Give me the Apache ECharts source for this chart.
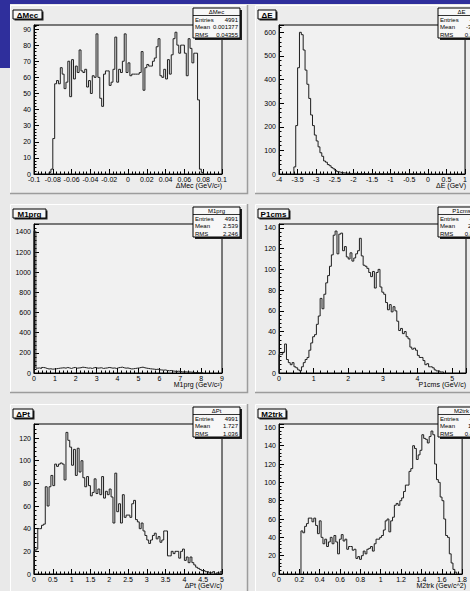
<!DOCTYPE html>
<html>
<head>
<meta charset="utf-8">
<script src="https://cdn.jsdelivr.net/npm/echarts@6/dist/echarts.min.js"></script>
<style>
  html, body { margin: 0; padding: 0; background: #e9e9e9; }
  #main { width: 470px; height: 591px; }
</style>
</head>
<body>
<div id="main"></div>
<script>
// ---- histogram contents (counts per bin) ----
var mecStart = -0.084, mecBin = 0.002;
var mecCounts = [1, 3,
  22, 56, 58, 56, 66, 62, 53, 57, 70, 48, 71, 59, 67, 63, 77, 64, 63, 65, 54, 58, 50, 61, 60,
  87, 60, 47, 42, 62, 64, 64, 55, 57, 65,
  85, 57, 65, 63, 70,
  87, 63, 69, 61, 62, 62, 62, 62, 63, 76, 52, 66, 68, 67, 67, 70, 72, 79,
  84, 61, 60, 65, 59, 71, 62, 74, 84,
  88, 80, 75, 80, 80, 75, 61,
  84, 78, 69, 75, 75, 46, 3, 1];

var deStart = -3.6, deBin = 0.05;
var deCounts = [30, 205, 450, 600, 590, 525, 440, 380, 320, 250, 205, 165, 140, 115, 90, 75, 55, 50, 40, 35,
  27, 22, 15, 10, 8, 6, 5, 4, 3, 3, 2, 2, 3, 1, 2, 1, 1, 2, 1, 1,
  0, 1, 1, 0, 1, 0, 1, 1, 0, 0, 1, 0, 1, 0, 0, 1, 0, 0, 1, 0,
  1, 0, 0, 1, 0, 0, 1, 0, 0, 0, 1];

var m1Start = 0, m1Bin = 0.09;
var m1Counts = [1408, 48, 50, 45, 55, 52, 45, 40, 42, 38, 40, 42, 45, 48, 50, 52, 48, 55, 50, 45,
  52, 55, 48, 50, 52, 58, 55, 52, 48, 50, 45, 52, 55, 48, 50, 52, 45, 48, 50, 55,
  52, 48, 50, 45, 52, 55, 58, 52, 48, 50, 45, 40, 42, 45, 48, 50, 55, 58, 52, 48,
  45, 42, 40, 38, 35, 38, 32, 30, 28, 30, 25, 22, 25, 20, 18, 15, 18, 15, 12, 10,
  12, 8, 10, 8, 6, 5, 4, 3, 2, 1];

var pcStart = 0, pcBin = 0.054;
var pcCounts = [18, 18, 20, 28, 13, 10, 8, 10, 6, 5,
  3, 2, 6, 10, 13, 15, 22, 29, 35, 37,
  47, 55, 72, 62, 76, 87, 94, 103, 114, 133,
  137, 115, 134, 135, 118, 122, 112, 110, 116, 108,
  111, 115, 118, 130, 113, 104, 103, 101, 97, 93,
  98, 82, 97, 100, 83, 78, 76, 68, 61, 66,
  59, 64, 60, 50, 41, 43, 38, 40, 35, 33,
  25, 23, 24, 22, 17, 15, 15, 12, 8, 9,
  6, 6, 5, 3, 2, 2, 1, 1];

var ptStart = 0, ptBin = 0.05;
var ptCounts = [20, 22, 40, 40, 43, 44, 77, 60, 77, 87,
  78, 97, 95, 97, 98, 97, 83, 125, 118, 112,
  96, 110, 87, 111, 90, 100, 85, 77, 86, 78,
  69, 72, 84, 71, 75, 70, 86, 67, 73, 70,
  75, 68, 45, 89, 55, 62, 45, 70, 50, 52,
  52, 50, 62, 65, 48, 46, 40, 45, 38, 34,
  30, 27, 30, 34, 36, 31, 33, 28, 30, 38,
  38, 16, 16, 20, 18, 20, 20, 14, 20, 22,
  12, 15, 10, 15, 10, 8, 6, 5, 4, 3,
  3, 2, 2, 1, 1, 2, 0, 1, 0, 2];

var m2Start = 0.216, m2Bin = 0.018;
var m2Counts = [47, 45, 52, 55, 61, 61, 57, 61, 53, 44, 58, 40, 33, 38, 30, 35, 40, 33, 42, 35,
  22, 38, 43, 36, 38, 27, 30, 30, 26, 27, 17, 19, 16,
  20, 25, 22, 27, 28, 30, 25, 33, 38, 38,
  40, 42, 48, 58, 60, 46, 58, 62, 75, 77, 75, 80, 83, 90, 97, 97, 112, 115, 140, 137,
  125, 130, 135, 152, 148, 147, 143, 150, 156, 152, 120, 103, 100, 84, 80, 60, 42, 40, 22, 12,
  5, 2];

// ---- labels ----
var titles = ['\u0394Mec', '\u0394E', 'M1prg', 'P1cms', '\u0394Pt', 'M2trk'];
var xTitles = ['\u0394Mec (GeV/c\u00b2)', '\u0394E (GeV)', 'M1prg (GeV/c\u00b2)', 'P1cms (GeV/c)', '\u0394Pt (GeV/c)', 'M2trk (Gev/c^2)'];
var entries = ['4991', '4991', '4991', '4991', '4991', '4991'];
var means = ['0.001377', '-3.219', '2.539', '2.139', '1.727', '1.047'];
var rmss = ['0.04355', '0.2637', '2.246', '0.8745', '1.036', '0.4279'];

var hists = [
  { start: mecStart, bin: mecBin, counts: mecCounts, xMin: -0.1, xMax: 0.1, xStep: 0.02, yMax: 92.5, yStep: 10, tw: 29 },
  { start: deStart, bin: deBin, counts: deCounts, xMin: -4, xMax: 1, xStep: 0.5, yMax: 631, yStep: 100, tw: 18 },
  { start: m1Start, bin: m1Bin, counts: m1Counts, xMin: 0, xMax: 9, xStep: 1, yMax: 1479, yStep: 200, tw: 33 },
  { start: pcStart, bin: pcBin, counts: pcCounts, xMin: 0, xMax: 5.4, xStep: 1, yMax: 143.8, yStep: 20, tw: 31 },
  { start: ptStart, bin: ptBin, counts: ptCounts, xMin: 0, xMax: 5, xStep: 0.5, yMax: 132.4, yStep: 20, tw: 20 },
  { start: m2Start, bin: m2Bin, counts: m2Counts, xMin: 0, xMax: 1.8, xStep: 0.2, yMax: 163.7, yStep: 20, tw: 28 }
];

var FONT = 'Liberation Sans, Arial, sans-serif';
var padX = [10, 255], padY = [5, 204, 404];
var padW = 238, padH = 189;
var frameW = [188, 187], frameH = [149, 149, 150];

function fmt(v) { return String(parseFloat(v.toFixed(4))); }
function onStep(v, step) { return Math.abs(v / step - Math.round(v / step)) < 1e-6; }

function histPoints(h) {
  var pts = [[h.start, 0]];
  for (var i = 0; i < h.counts.length; i++) {
    pts.push([h.start + i * h.bin, h.counts[i]]);
  }
  pts.push([h.start + h.counts.length * h.bin, 0]);
  return pts;
}

var grids = [], xAxes = [], yAxes = [], series = [];
var graphics = [
  { type: 'rect', z: -20, shape: { x: 0, y: 0, width: 470, height: 591 }, style: { fill: '#e9e9e9' } }
];

hists.forEach(function (h, k) {
  var col = k % 2, row = Math.floor(k / 2);
  var px = padX[col], py = padY[row];
  var fl = px + 24, ft = py + 20, fw = frameW[col], fh = frameH[row];

  // pad with bevel
  graphics.push({ type: 'rect', z: -10, shape: { x: px, y: py, width: padW, height: padH },
    style: { fill: '#ececec' } });
  graphics.push({ type: 'polyline', z: -9, shape: { points: [[px + 0.5, py + padH], [px + 0.5, py + 0.5], [px + padW, py + 0.5]] },
    style: { stroke: '#ffffff', lineWidth: 1, fill: null } });
  graphics.push({ type: 'polyline', z: -9, shape: { points: [[px, py + padH - 0.5], [px + padW - 0.5, py + padH - 0.5], [px + padW - 0.5, py]] },
    style: { stroke: '#9c9c9c', lineWidth: 1.5, fill: null } });

  grids.push({ left: fl, top: ft, width: fw, height: fh, show: true,
    backgroundColor: '#f1f1f1', borderColor: '#000', borderWidth: 1 });

  xAxes.push({
    type: 'value', gridIndex: k, min: h.xMin, max: h.xMax, interval: h.xStep,
    splitLine: { show: false },
    axisLine: { onZero: false, lineStyle: { color: '#000', width: 1 } },
    axisTick: { inside: true, length: 5, lineStyle: { color: '#000' } },
    minorTick: { show: true, splitNumber: 5, length: 2.5, lineStyle: { color: '#000' } },
    axisLabel: { fontSize: 7, fontFamily: FONT, color: '#000', margin: 2, showMinLabel: true,
      formatter: function (v) { return onStep(v, h.xStep) ? fmt(v) : ''; } }
  });
  yAxes.push({
    type: 'value', gridIndex: k, min: 0, max: h.yMax, interval: h.yStep,
    splitLine: { show: false },
    axisLine: { onZero: false, lineStyle: { color: '#000', width: 1 } },
    axisTick: { inside: true, length: 5, lineStyle: { color: '#000' } },
    minorTick: { show: true, splitNumber: 5, length: 2.5, lineStyle: { color: '#000' } },
    axisLabel: { fontSize: 7, fontFamily: FONT, color: '#000', margin: 3, showMaxLabel: false,
      formatter: function (v) { return onStep(v, h.yStep) ? fmt(v) : ''; } }
  });
  series.push({
    type: 'line', xAxisIndex: k, yAxisIndex: k, step: 'end', symbol: 'none',
    lineStyle: { color: '#1e1e1e', width: 1 }, data: histPoints(h), animation: false
  });

  // x axis title
  graphics.push({ type: 'text', z: 50, x: fl + fw, y: ft + fh + 8,
    style: { text: xTitles[k], font: '7px ' + FONT, fill: '#000', align: 'right', verticalAlign: 'top' } });

  // title box
  var tx = px + 3, ty = py + 5;
  graphics.push({ type: 'rect', z: 50, shape: { x: tx + 1.5, y: ty + 1.5, width: h.tw, height: 9 }, style: { fill: '#222' } });
  graphics.push({ type: 'rect', z: 51, shape: { x: tx, y: ty, width: h.tw, height: 9 }, style: { fill: '#f7f7f7', stroke: '#000', lineWidth: 1 } });
  graphics.push({ type: 'text', z: 52, x: tx + h.tw / 2, y: ty + 5,
    style: { text: titles[k], font: 'bold 8px ' + FONT, fill: '#000', align: 'center', verticalAlign: 'middle' } });

  // stats box
  var sx = px + 183, sy = py + 3, sw = 47, sh = 30;
  graphics.push({ type: 'rect', z: 50, shape: { x: sx + 2, y: sy + 2, width: sw, height: sh }, style: { fill: '#222' } });
  graphics.push({ type: 'rect', z: 51, shape: { x: sx, y: sy, width: sw, height: sh }, style: { fill: '#f7f7f7', stroke: '#000', lineWidth: 1 } });
  graphics.push({ type: 'line', z: 52, shape: { x1: sx, y1: sy + 7.5, x2: sx + sw, y2: sy + 7.5 }, style: { stroke: '#000', lineWidth: 0.8 } });
  graphics.push({ type: 'text', z: 52, x: sx + sw / 2, y: sy + 4,
    style: { text: titles[k], font: '6px ' + FONT, fill: '#000', align: 'center', verticalAlign: 'middle' } });
  var rows = [['Entries', entries[k]], ['Mean', means[k]], ['RMS', rmss[k]]];
  rows.forEach(function (r, j) {
    var yy = sy + 11.5 + j * 7.5;
    graphics.push({ type: 'text', z: 52, x: sx + 2, y: yy,
      style: { text: r[0], font: '6px ' + FONT, fill: '#000', align: 'left', verticalAlign: 'middle' } });
    graphics.push({ type: 'text', z: 52, x: sx + sw - 2, y: yy,
      style: { text: r[1], font: '6px ' + FONT, fill: '#000', align: 'right', verticalAlign: 'middle' } });
  });
});

// slide background bits in blue
graphics.push({ type: 'rect', z: 60, shape: { x: 0, y: 0, width: 470, height: 4 }, style: { fill: '#2f2f9c' } });
graphics.push({ type: 'rect', z: 60, shape: { x: 0, y: 0, width: 10, height: 68 }, style: { fill: '#2f2f9c' } });

var chart = echarts.init(document.getElementById('main'), null, { renderer: 'svg' });
chart.setOption({
  animation: false,
  backgroundColor: '#e9e9e9',
  grid: grids,
  xAxis: xAxes,
  yAxis: yAxes,
  series: series,
  graphic: { elements: graphics }
});
</script>
</body>
</html>
